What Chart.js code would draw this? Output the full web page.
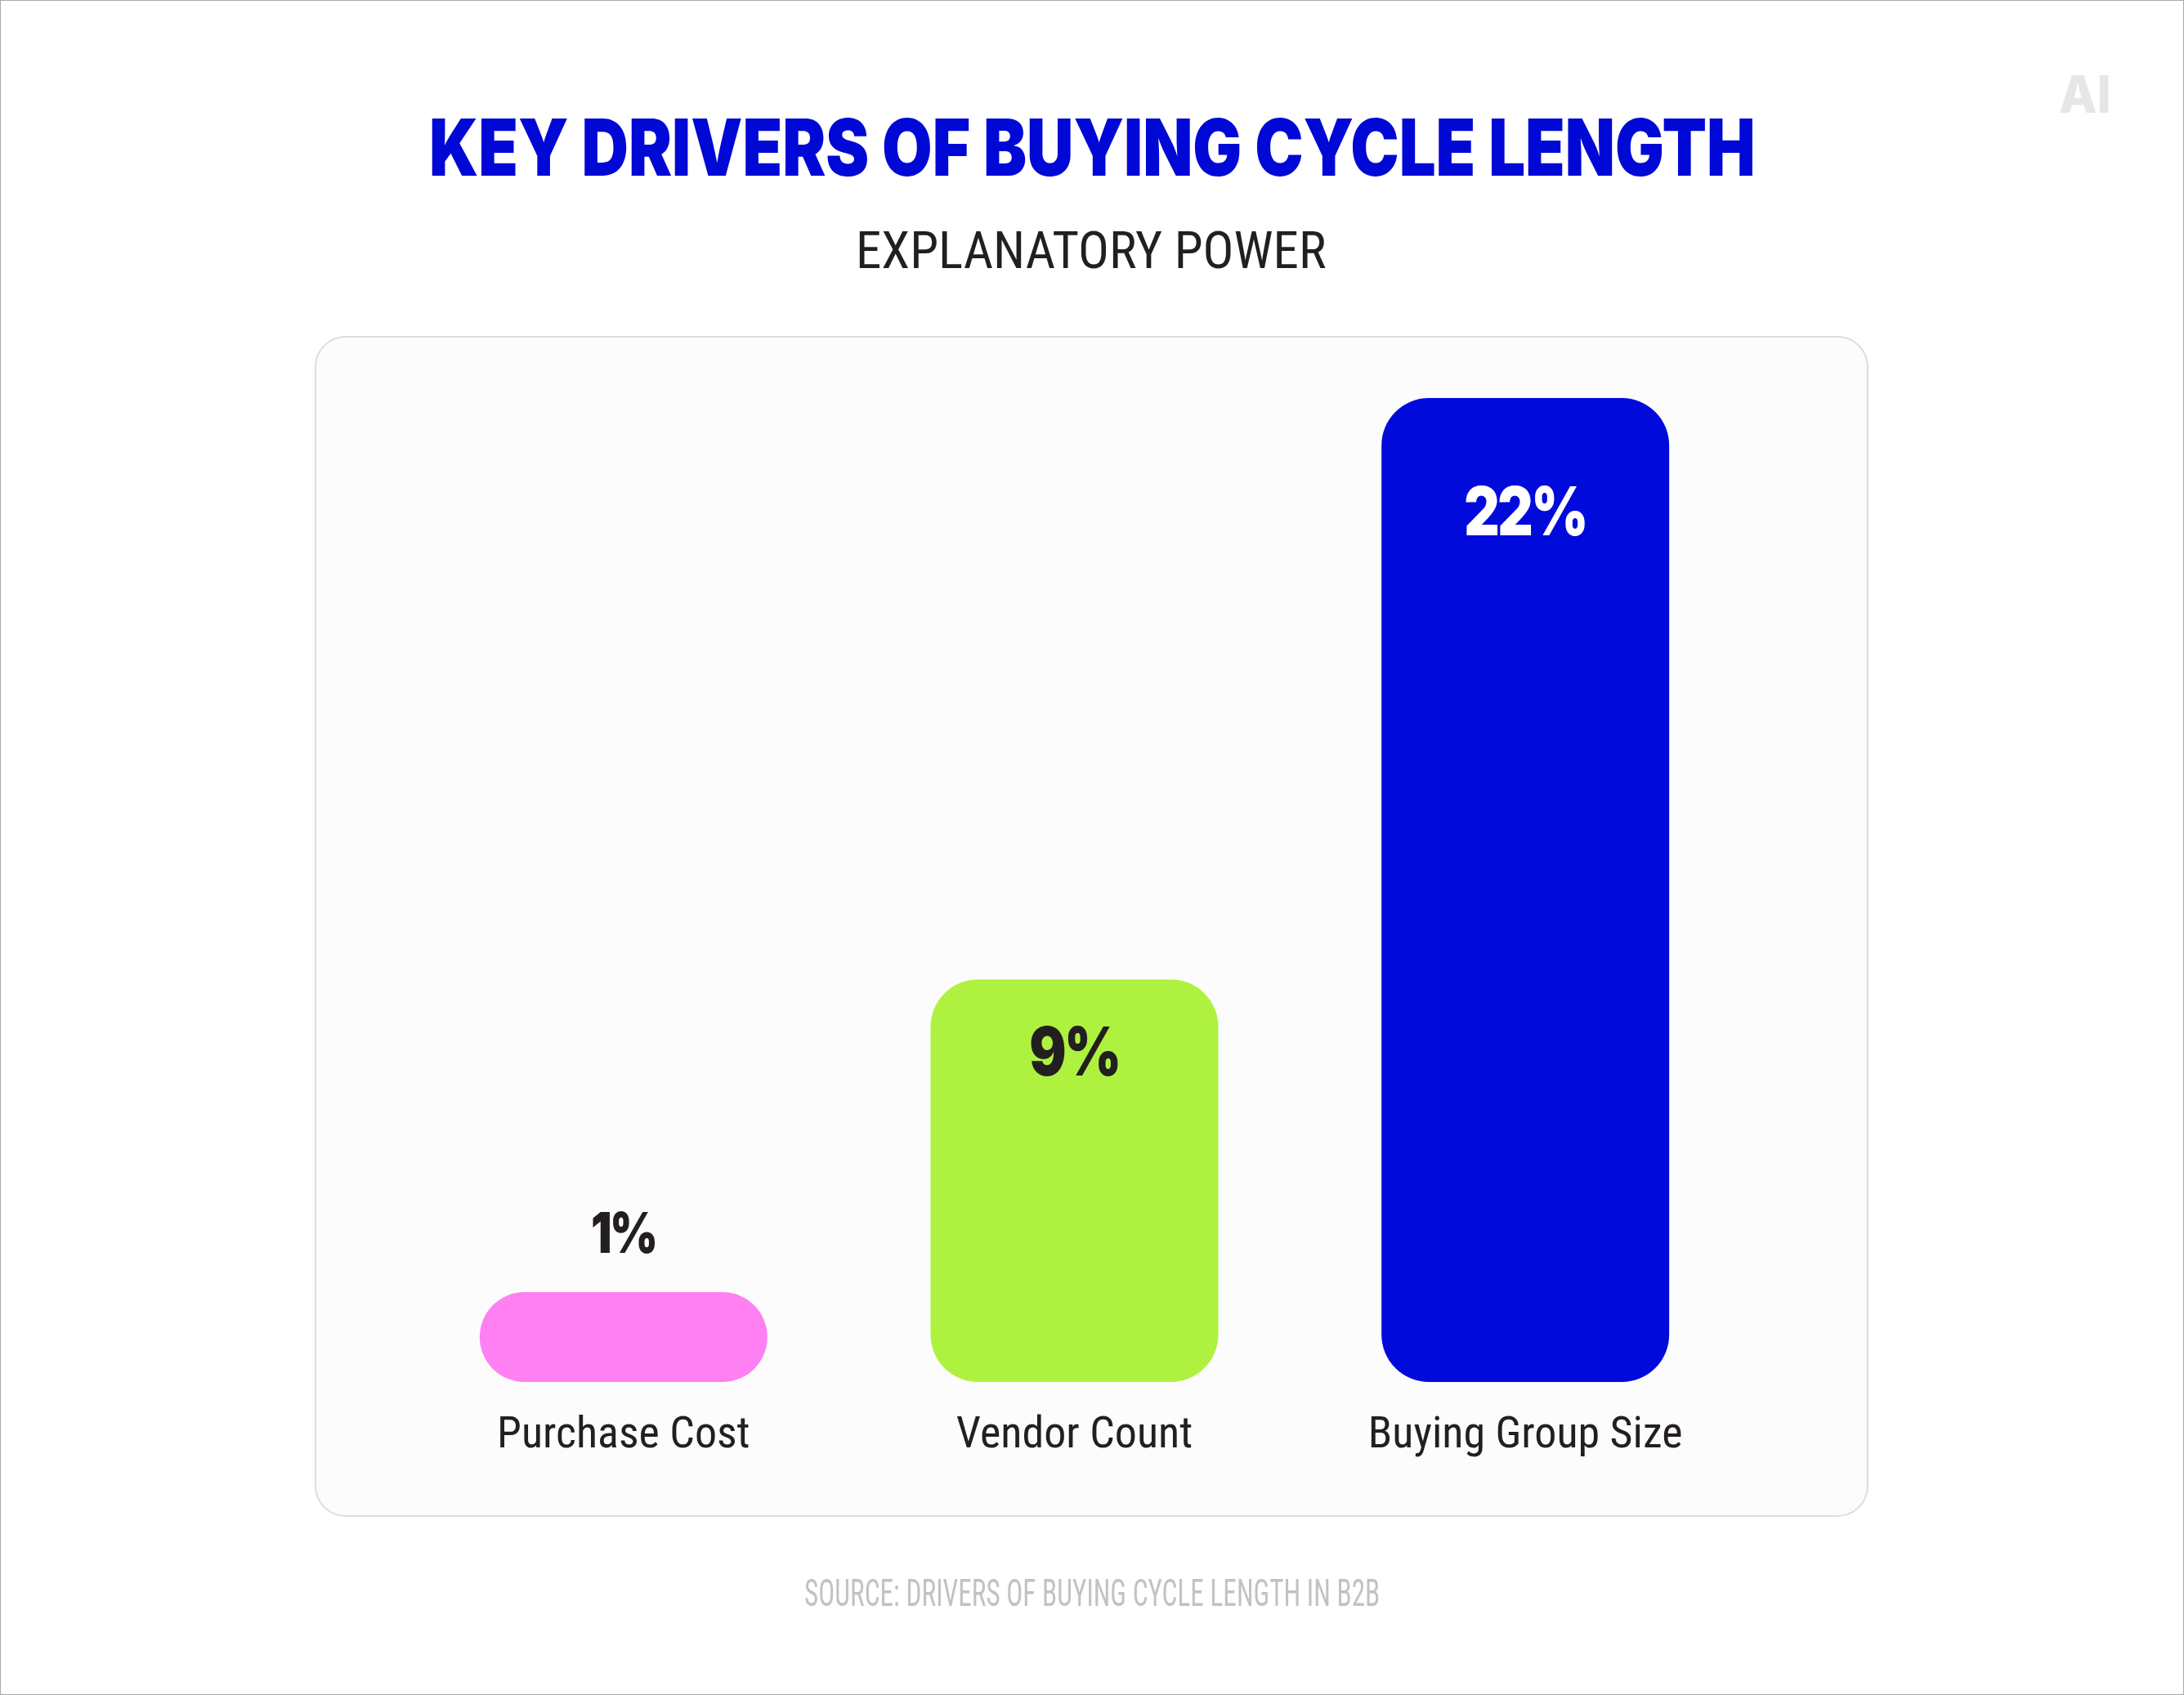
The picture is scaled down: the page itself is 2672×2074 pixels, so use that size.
<!DOCTYPE html>
<html><head><meta charset="utf-8">
<script src="https://cdn.jsdelivr.net/npm/chart.js@4.4.1/dist/chart.umd.min.js"></script>
<style>
html,body{margin:0;padding:0;background:#fff;}
#page{position:relative;width:2672px;height:2074px;overflow:hidden;background:#fff;}
#frame{position:absolute;left:0;top:0;width:2672px;height:2074px;box-sizing:border-box;border:1px solid #a8a8a8;pointer-events:none;z-index:5}
#panel{position:absolute;left:385px;top:411px;width:1901px;height:1445px;box-sizing:border-box;background:#fcfcfc;border:2px solid #dddddd;border-radius:38px;}
#chart{position:absolute;left:0;top:0;}
.fit{position:absolute;white-space:nowrap;transform-origin:0 0;line-height:1;margin:0;}
#title{font-family:Inter, 'Noto Sans', sans-serif;font-weight:900;font-size:96px;color:#0008d6;}
#subtitle{font-family:'Roboto Condensed', Roboto, sans-serif;font-weight:400;font-size:63px;color:#231f20;}
#source{font-family:'Roboto Condensed', Roboto, sans-serif;font-weight:400;font-size:46px;color:#c2c2c2;}
#logo{font-family:Inter, sans-serif;font-weight:800;font-size:63px;color:#e6e6e6;}
</style></head>
<body>
<div id="page">
  <div id="panel"></div>
  <canvas id="chart" width="2672" height="2074" style="width:2672px;height:2074px"></canvas>
  <h1 class="fit" id="title" data-left="528" data-width="1616" data-captop="145">KEY DRIVERS OF BUYING CYCLE LENGTH</h1>
  <div class="fit" id="subtitle" data-left="1051" data-width="571" data-captop="283">EXPLANATORY POWER</div>
  <div class="fit" id="source" data-left="985" data-width="702" data-captop="1932">SOURCE: DRIVERS OF BUYING CYCLE LENGTH IN B2B</div>
  <div class="fit" id="logo" data-left="2520" data-width="60" data-captop="92">AI</div>
  <div id="frame"></div>
</div>
<script>
// ---- data ----
const categories = ['Purchase Cost', 'Vendor Count', 'Buying Group Size'];
const values = [1, 9, 22];
const valueLabels = ['1%', '9%', '22%'];
const barColors = ['#ff80f2', '#aef23f', '#000bdb'];

const tickFont = "'Roboto Condensed', Roboto, sans-serif";

// fit HTML texts to measured widths and cap positions
const mctx = document.createElement('canvas').getContext('2d');
function fitText(el) {
  const cs = getComputedStyle(el);
  const fs = parseFloat(cs.fontSize);
  mctx.font = `${cs.fontWeight} ${fs}px ${cs.fontFamily}`;
  const m = mctx.measureText(el.textContent);
  const capH = mctx.measureText('H').actualBoundingBoxAscent;
  const A = m.fontBoundingBoxAscent, D = m.fontBoundingBoxDescent;
  const baselineFromTop = (fs - (A + D)) / 2 + A;
  const capTop = parseFloat(el.dataset.captop);
  el.style.top = (capTop - (baselineFromTop - capH)) + 'px';
  const inkW = m.actualBoundingBoxRight + m.actualBoundingBoxLeft;
  const s = parseFloat(el.dataset.width) / inkW;
  el.style.left = (parseFloat(el.dataset.left) + m.actualBoundingBoxLeft * s) + 'px';
  el.style.transform = `scaleX(${s})`;
}

const valueLabelPlugin = {
  id: 'valueLabels',
  afterDatasetsDraw(chart, args, opts) {
    const ctx = chart.ctx;
    const meta = chart.getDatasetMeta(0);
    meta.data.forEach((bar, i) => {
      const st = opts.styles[i];
      const y = st.pos === 'above' ? bar.y - st.gap : bar.y + st.gap;
      ctx.save();
      ctx.translate(bar.x, y);
      ctx.scale(opts.squeeze, 1);
      ctx.font = `900 ${st.size}px Inter, sans-serif`;
      ctx.letterSpacing = opts.spacing + 'px';
      ctx.fillStyle = st.color;
      ctx.textAlign = 'center';
      ctx.textBaseline = 'alphabetic';
      ctx.fillText(valueLabels[i], 0, 0);
      ctx.restore();
    });
  }
};

function draw() {
  document.querySelectorAll('.fit').forEach(fitText);
  new Chart(document.getElementById('chart').getContext('2d'), {
    type: 'bar',
    data: {
      labels: categories,
      datasets: [{
        data: values,
        backgroundColor: barColors,
        borderRadius: 58,
        borderSkipped: false,
        minBarLength: 110,
        barPercentage: 0.638,
        categoryPercentage: 1
      }]
    },
    options: {
      responsive: false,
      animation: false,
      devicePixelRatio: 1,
      layout: { padding: { left: 487, right: 530, top: 487, bottom: 233 } },
      plugins: {
        legend: { display: false },
        tooltip: { enabled: false },
        valueLabels: {
          squeeze: 0.82,
          spacing: -3,
          styles: [
            { pos: 'above', gap: 48, size: 69, color: '#231f20' },
            { pos: 'inside', gap: 118, size: 82, color: '#231f20' },
            { pos: 'inside', gap: 168, size: 82, color: '#ffffff' }
          ]
        }
      },
      scales: {
        x: {
          grid: { display: false, drawTicks: false },
          border: { display: false },
          ticks: { padding: 34, color: '#231f20', font: { family: tickFont, size: 54, weight: '400' } },
          afterFit: s => { s.height = 150; }
        },
        y: { display: false, min: 0, max: 22 }
      }
    },
    plugins: [valueLabelPlugin]
  });
}
if (document.fonts && document.fonts.ready) { document.fonts.ready.then(draw); } else { draw(); }
</script>
</body></html>
